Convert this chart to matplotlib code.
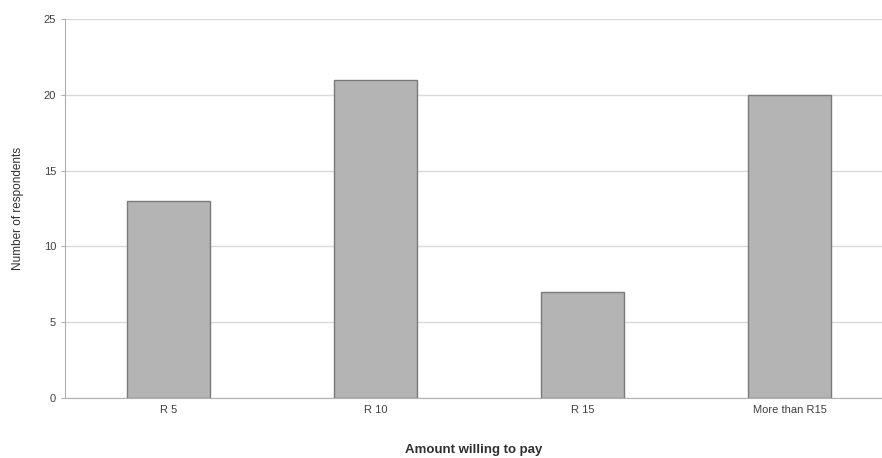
import matplotlib
matplotlib.use("Agg")
import matplotlib.pyplot as plt

categories = ["R 5", "R 10", "R 15", "More than R15"]
respondents = [13, 21, 7, 20]
y_ticks = [0, 5, 10, 15, 20, 25]

plt.rcParams["font.family"] = ["Liberation Sans", "DejaVu Sans"]

fig = plt.figure(figsize=(8.82, 4.58), dpi=100)
ax = fig.add_axes([0.0737, 0.131, 0.9263, 0.8275])

x = list(range(len(categories)))
ax.bar(x, respondents, width=0.40, color="#b4b4b4", edgecolor="#7a7a7a",
       linewidth=1.0, zorder=3)

ax.set_xlim(-0.5, 3.447)
ax.set_ylim(0, 25)
ax.set_yticks(y_ticks)
ax.set_xticks(x)
ax.set_xticklabels(categories)

ax.grid(axis="y", color="#d9d9d9", linewidth=1.0, zorder=0)
for side in ["top", "right"]:
    ax.spines[side].set_visible(False)
ax.spines["left"].set_color("#b0b0b0")
ax.spines["bottom"].set_color("#b0b0b0")
ax.tick_params(axis="both", length=3, color="#b0b0b0", labelsize=8,
               labelcolor="#404040")
ax.tick_params(axis="x", length=0, pad=5)

ax.set_xlabel("Amount willing to pay", fontsize=9.5, fontweight="bold",
              color="#303030", labelpad=21)
ax.set_ylabel("Number of respondents", fontsize=8.5, color="#303030", labelpad=14)

fig.savefig("out.png", dpi=100)
